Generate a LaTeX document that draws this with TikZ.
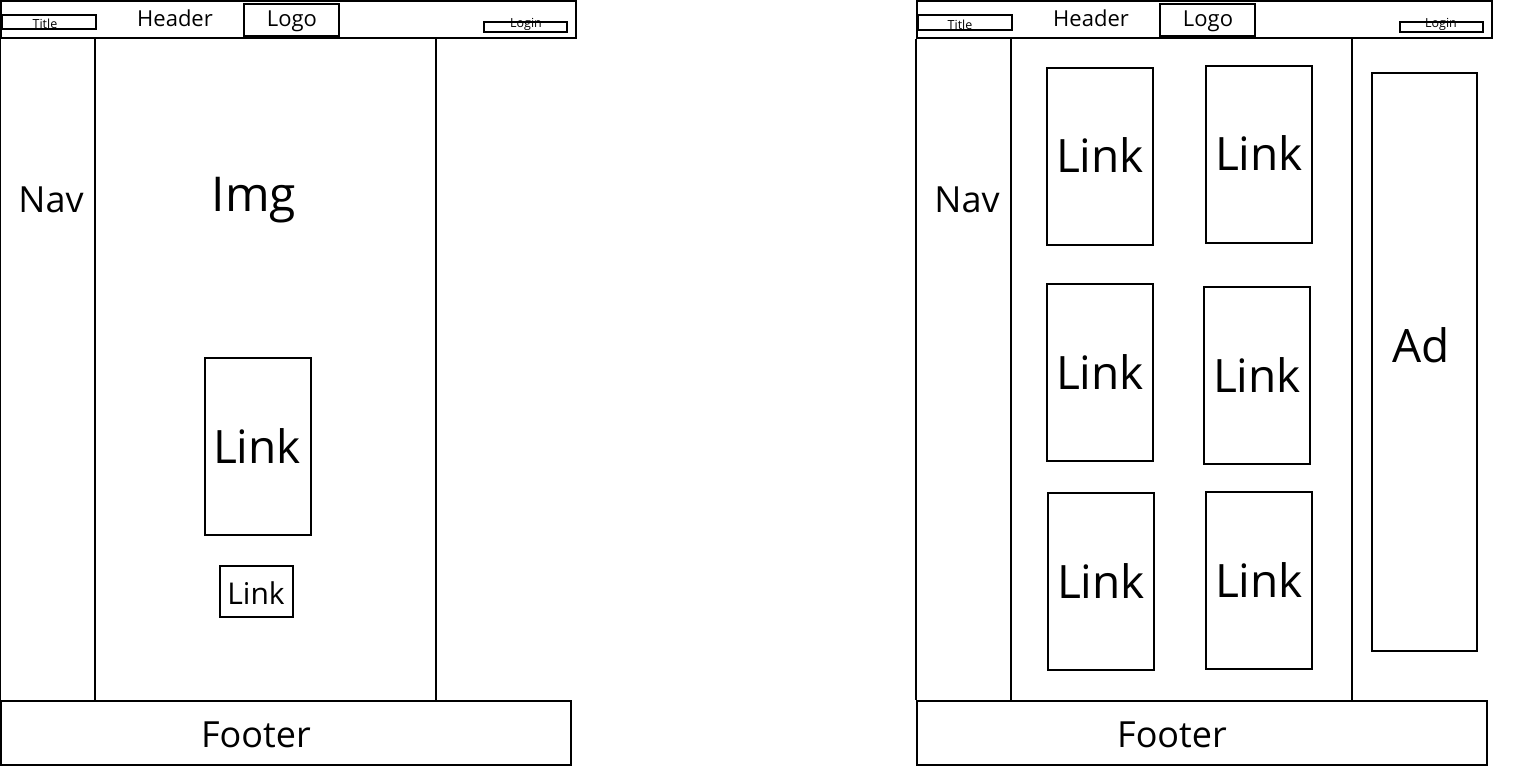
\documentclass[tikz,border=0pt]{standalone}
\usepackage{fontspec}
\setmainfont{Open Sans}
\usetikzlibrary{fit}
\tikzset{
  frame/.style={draw, line width=2.2pt, inner sep=0pt},
  thinframe/.style={draw, line width=2pt, inner sep=0pt},
  txt/.style={inner sep=0pt, anchor=base},
  fsTiny/.style={font=\fontsize{12.5}{12.5}\selectfont},
  fsHead/.style={font=\fontsize{22}{22}\selectfont},
  fsBig/.style={font=\fontsize{36}{36}\selectfont},
  fsLink/.style={font=\fontsize{46}{46}\selectfont},
  fsSmall/.style={font=\fontsize{30}{30}\selectfont},
  colline/.style={line width=2.2pt}
}
\begin{document}
\begin{tikzpicture}[x=1pt,y=-1pt]
\useasboundingbox (0,0) rectangle (1515,767);
% ================= LEFT PAGE =================
\node[frame, fit={(1,1) (576,38)}] (hdrL) {};
\node[thinframe, fit={(2,15) (96,29)}] (titleL) {};
\node[frame, fit={(244,4) (339,36)}] (logoL) {};
\node[thinframe, fit={(484,22) (567,32)}] (loginL) {};
\node[frame, fit={(1,701) (571,765)}] (footL) {};
\node[frame, fit={(205,358) (311,535)}] (linkL) {};
\node[frame, fit={(220,566) (293,617)}] (slinkL) {};
\draw[colline] (hdrL.south west) -- (footL.north west);
\draw[colline] (95,38) -- (95,701);
\draw[colline] (436,38) -- (436,701);
\node[txt, fsTiny] (titleLt) at (45,29) {Title};
\node[txt, fsHead] (headerLt) at (175,27) {Header};
\node[txt, fsHead] (logoLt) at (292,27) {Logo};
\node[txt, fsTiny] (loginLt) at (526,28) {Login};
\node[txt, fsBig] (navL) at (51,213) {Nav};
\node[txt, font=\fontsize{48}{48}\selectfont] (imgL) at (254,212) {Img};
\node[txt, fsLink] (linkLt) at (257,463) {Link};
\node[txt, fsSmall] (slinkLt) at (256,604) {Link};
\node[txt, fsBig] (footLt) at (256,747) {Footer};
% ================= RIGHT PAGE =================
\node[frame, fit={(917,1) (1492,38)}] (hdrR) {};
\node[thinframe, fit={(918,15) (1012,30)}] (titleR) {};
\node[frame, fit={(1160,4) (1255,36)}] (logoR) {};
\node[thinframe, fit={(1400,22) (1483,32)}] (loginR) {};
\node[frame, fit={(917,701) (1487,765)}] (footR) {};
\draw[colline] (hdrR.south west) -- (footR.north west);
\draw[colline] (1011,38) -- (1011,701);
\draw[colline] (1352,38) -- (1352,701);
\node[frame, fit={(1047,68) (1153,245)}] (l1) {};
\node[frame, fit={(1206,66) (1312,243)}] (l2) {};
\node[frame, fit={(1047,284) (1153,461)}] (l3) {};
\node[frame, fit={(1204,287) (1310,464)}] (l4) {};
\node[frame, fit={(1048,493) (1154,670)}] (l5) {};
\node[frame, fit={(1206,492) (1312,669)}] (l6) {};
\node[frame, fit={(1372,73) (1477,651)}] (ad) {};
\node[txt, fsTiny] (titleRt) at (960,30) {Title};
\node[txt, fsHead] (headerRt) at (1091,27) {Header};
\node[txt, fsHead] (logoRt) at (1208,27) {Logo};
\node[txt, fsTiny] (loginRt) at (1441,28) {Login};
\node[txt, fsBig] (navR) at (967,213) {Nav};
\node[txt, fsLink] (l1t) at (1100,173) {Link};
\node[txt, fsLink] (l2t) at (1259,171) {Link};
\node[txt, fsLink] (l3t) at (1100,389) {Link};
\node[txt, fsLink] (l4t) at (1257,392) {Link};
\node[txt, fsLink] (l5t) at (1101,598) {Link};
\node[txt, fsLink] (l6t) at (1259,597) {Link};
\node[txt, fsLink] (adt) at (1421,362) {Ad};
\node[txt, fsBig] (footRt) at (1172,747) {Footer};
\end{tikzpicture}
\end{document}
